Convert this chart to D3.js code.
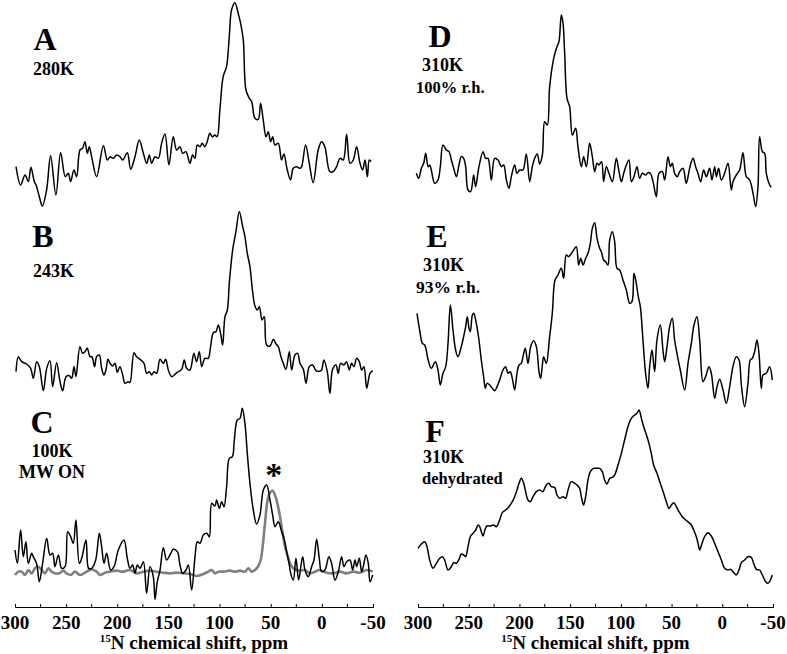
<!DOCTYPE html>
<html><head><meta charset="utf-8">
<script src="https://cdn.jsdelivr.net/npm/d3@7"></script>
<style>
html,body{margin:0;padding:0;background:#fff;}
svg{display:block;}
text{font-family:"Liberation Serif","Times New Roman",serif;font-weight:bold;fill:#000;}
</style></head><body>
<svg id="chart" width="787" height="654"></svg>
<script>
// ---- data: [chemical shift (ppm), intensity (a.u.)] ----
const spectrumA = [[299.0,13.0],[294.5,7.5],[290.2,10.5],[287.0,8.5],[284.4,12.8],[281.1,8.5],[279.4,7.5],[276.2,4.0],[273.3,1.2],[269.1,6.0],[265.2,16.3],[260.0,4.5],[255.4,17.2],[250.8,10.0],[247.9,11.0],[245.6,8.5],[242.4,12.0],[239.7,10.0],[236.5,18.0],[233.9,18.5],[231.6,20.5],[229.3,17.0],[227.4,19.0],[225.1,16.0],[220.2,10.0],[213.6,19.3],[209.7,15.0],[207.1,16.0],[203.9,15.5],[200.6,16.5],[197.4,16.0],[194.7,15.0],[190.2,17.2],[186.9,12.2],[182.7,16.0],[178.5,21.0],[174.5,17.0],[171.3,14.0],[168.7,16.5],[166.4,14.0],[163.2,16.0],[159.9,15.5],[156.7,20.0],[153.4,22.8],[149.5,13.5],[145.3,22.0],[142.0,18.0],[138.7,19.0],[136.1,17.0],[132.9,17.5],[129.0,14.0],[126.4,16.5],[124.1,15.5],[121.8,19.5],[119.2,19.0],[117.0,20.0],[114.4,19.0],[112.1,20.5],[109.5,23.0],[107.2,22.0],[104.6,22.5],[102.4,22.0],[99.7,30.0],[96.5,40.0],[93.2,43.0],[90.5,52.0],[88.3,60.0],[85.0,62.2],[81.8,59.0],[79.4,56.0],[76.8,51.0],[74.2,36.0],[70.9,33.5],[68.6,32.5],[65.4,27.5],[62.2,27.2],[59.9,32.0],[57.3,27.0],[54.6,22.0],[52.4,23.5],[50.1,20.5],[48.1,22.0],[45.9,19.5],[42.6,20.0],[39.4,15.0],[37.1,16.8],[33.8,12.0],[30.6,9.0],[28.0,12.5],[24.7,13.0],[21.4,12.5],[19.8,13.0],[15.9,19.5],[12.3,14.0],[8.5,8.2],[3.6,18.0],[0.3,20.5],[-2.9,19.0],[-7.8,11.5],[-11.1,11.5],[-14.4,13.0],[-17.7,15.5],[-20.9,15.0],[-24.2,22.7],[-27.5,14.0],[-30.7,15.0],[-34.0,19.0],[-37.3,14.0],[-39.9,12.0],[-42.2,15.0],[-44.5,10.0],[-46.4,15.0],[-48.1,14.5]];

const spectrumB = [[299.0,8.5],[296.7,13.0],[293.5,11.5],[288.6,10.8],[284.7,9.5],[282.1,6.5],[278.8,11.5],[276.2,10.0],[272.3,2.8],[269.0,9.5],[265.8,11.8],[263.2,4.0],[259.3,11.2],[256.0,5.5],[253.4,2.8],[250.1,7.0],[246.9,7.3],[244.6,6.5],[242.3,10.0],[240.4,7.0],[236.5,16.0],[233.9,14.0],[231.6,14.5],[229.3,15.5],[226.7,13.0],[224.8,13.0],[222.2,10.0],[220.2,13.0],[217.6,13.5],[215.3,9.5],[213.0,7.5],[211.1,9.0],[209.1,12.2],[207.1,11.0],[204.5,10.2],[202.2,11.0],[200.0,8.3],[197.4,10.0],[194.7,7.5],[192.5,5.0],[189.2,5.5],[187.6,5.2],[183.7,14.2],[181.1,13.0],[177.8,12.2],[173.9,11.0],[171.3,8.0],[168.7,8.5],[166.4,7.5],[164.1,8.5],[161.5,8.0],[158.2,12.2],[155.0,11.0],[152.7,12.2],[150.1,9.0],[146.8,7.0],[141.9,8.2],[137.1,9.2],[134.5,12.0],[132.2,9.5],[129.0,9.0],[125.1,14.0],[122.5,11.5],[119.8,14.5],[117.5,10.0],[114.3,12.5],[111.1,12.5],[108.8,16.0],[106.1,20.2],[103.5,20.5],[101.2,22.5],[98.9,19.8],[97.0,16.5],[94.7,25.0],[92.4,27.0],[90.5,35.0],[87.2,45.0],[84.0,50.5],[80.7,56.5],[77.4,52.0],[75.2,49.0],[72.9,44.0],[70.3,40.0],[67.7,32.5],[65.4,28.2],[63.1,27.0],[61.1,28.0],[58.5,24.0],[56.3,25.0],[54.0,16.5],[50.7,16.2],[47.4,18.2],[44.8,16.8],[42.6,16.0],[40.0,13.0],[37.7,11.0],[35.1,9.2],[31.8,14.5],[29.5,9.0],[26.3,13.5],[23.7,14.0],[21.4,11.0],[18.1,9.2],[15.5,5.0],[12.3,10.0],[9.0,10.5],[5.7,8.8],[2.5,8.6],[0.3,9.0],[-2.0,12.0],[-5.3,8.5],[-7.9,2.0],[-10.5,9.2],[-13.8,10.5],[-16.0,8.0],[-18.3,11.0],[-21.6,10.5],[-24.2,11.5],[-26.8,9.0],[-29.1,11.0],[-31.4,10.0],[-34.0,12.5],[-36.6,11.5],[-38.9,9.0],[-41.2,10.0],[-43.8,3.5],[-47.1,8.0],[-49.7,8.8]];

const spectrumC = [[300.0,18.0],[297.7,14.0],[294.5,24.0],[291.9,16.0],[289.3,20.5],[287.0,14.0],[283.7,17.0],[282.1,16.0],[278.8,13.8],[276.2,8.5],[273.0,14.0],[269.0,21.5],[265.8,16.5],[263.2,17.0],[260.9,13.0],[257.6,16.5],[254.4,12.5],[251.1,13.0],[248.5,23.5],[245.6,22.0],[243.0,20.0],[240.4,27.0],[237.1,14.0],[234.8,15.5],[230.6,21.0],[228.0,12.5],[225.1,12.5],[221.1,15.0],[217.6,23.0],[215.3,19.0],[213.0,14.0],[210.4,17.0],[206.5,12.0],[203.2,13.0],[199.0,18.0],[193.5,21.0],[190.2,15.5],[187.6,12.5],[185.0,13.5],[182.7,11.0],[180.4,13.5],[177.8,12.5],[174.5,14.5],[171.3,5.0],[168.0,13.0],[164.8,10.0],[163.1,3.2],[160.9,8.5],[158.2,12.0],[155.0,18.7],[151.7,15.0],[148.5,16.5],[145.2,18.2],[141.3,17.5],[138.7,13.5],[136.1,11.0],[132.8,12.0],[130.5,13.5],[127.3,6.0],[124.0,16.0],[121.7,20.5],[119.1,20.0],[115.9,22.5],[112.6,23.0],[110.0,22.0],[107.7,32.0],[104.5,31.2],[102.9,33.0],[100.2,30.5],[98.0,32.5],[95.7,31.0],[93.1,37.0],[90.5,45.5],[87.5,46.0],[85.6,51.0],[82.7,57.0],[80.0,57.5],[77.8,60.5],[75.2,56.0],[72.9,47.0],[70.3,38.0],[67.0,30.0],[63.8,25.8],[60.5,28.5],[57.2,36.0],[54.0,37.5],[50.7,33.0],[48.1,28.5],[45.8,25.0],[42.6,26.5],[39.3,23.5],[37.0,21.5],[34.4,17.5],[31.8,13.5],[30.5,11.0],[27.9,9.0],[25.3,15.5],[22.7,9.0],[18.8,16.0],[16.5,12.0],[13.3,10.0],[10.0,13.0],[7.7,15.0],[5.1,21.2],[2.5,15.5],[0.3,11.5],[-3.0,12.0],[-6.9,16.0],[-9.5,14.0],[-12.8,9.0],[-16.1,11.5],[-19.3,16.0],[-21.6,13.0],[-24.2,14.5],[-27.5,15.0],[-30.1,12.0],[-32.4,15.0],[-34.0,13.0],[-36.6,15.5],[-38.9,11.5],[-40.5,13.0],[-43.1,16.5],[-45.4,14.0],[-47.1,8.5],[-49.7,10.5]];

const spectrumCref = [[300.0,10.5],[296.7,11.5],[293.5,11.5],[290.2,10.5],[287.0,12.0],[283.7,11.0],[280.4,12.5],[277.2,13.0],[273.9,12.0],[270.7,11.0],[267.4,12.5],[264.2,11.5],[260.9,11.0],[256.7,11.0],[252.8,11.8],[249.5,11.0],[245.6,10.5],[241.3,11.5],[236.5,10.5],[229.9,11.5],[225.1,12.2],[220.2,11.5],[216.9,10.5],[212.0,11.2],[207.1,11.5],[200.6,11.8],[194.1,11.5],[187.6,12.0],[181.1,11.0],[174.5,11.5],[168.0,11.8],[161.5,11.5],[155.0,11.2],[148.5,11.0],[142.0,11.2],[135.4,11.0],[128.9,10.8],[122.4,10.2],[115.9,10.8],[111.0,11.5],[107.7,12.0],[104.5,11.0],[101.2,11.5],[96.3,11.5],[89.8,11.8],[84.9,11.5],[80.0,11.8],[75.2,11.5],[71.9,12.5],[68.6,11.5],[65.4,12.0],[62.1,13.2],[59.8,15.0],[57.9,19.0],[55.6,26.0],[53.0,33.0],[50.7,35.2],[48.1,35.8],[45.8,34.5],[43.5,32.0],[40.9,28.0],[38.3,23.0],[36.0,19.0],[33.7,16.5],[31.1,14.0],[27.9,12.5],[24.6,12.0],[21.4,11.8],[16.5,12.0],[11.6,11.0],[6.7,11.5],[2.0,12.0],[-4.6,11.2],[-11.1,11.0],[-17.6,11.5],[-24.2,11.0],[-30.7,11.5],[-37.2,11.2],[-43.8,12.0],[-49.7,11.5]];

const spectrumD = [[301.6,11.0],[299.3,9.5],[296.7,12.5],[294.4,14.0],[292.4,17.0],[290.0,13.0],[288.5,13.5],[286.9,12.0],[283.6,8.0],[280.3,9.0],[278.0,13.0],[275.4,19.5],[272.1,18.0],[269.4,17.5],[267.1,15.0],[264.8,12.5],[262.2,10.0],[259.6,13.5],[257.3,16.0],[255.0,15.5],[253.0,13.0],[250.7,6.0],[248.1,5.5],[245.1,10.5],[243.2,7.0],[239.9,13.0],[235.9,17.5],[233.3,15.5],[231.0,15.5],[227.7,9.0],[224.4,15.5],[221.1,15.0],[217.8,13.0],[215.5,13.5],[212.9,9.0],[210.3,6.5],[208.0,10.0],[204.7,13.5],[202.4,11.0],[199.8,12.0],[196.5,12.0],[193.2,16.8],[189.9,8.5],[187.3,13.0],[185.0,15.5],[182.4,16.8],[180.1,13.8],[177.4,16.5],[175.1,26.5],[172.5,25.5],[170.2,37.0],[166.2,45.5],[163.0,49.0],[161.0,50.5],[158.7,58.5],[157.0,56.0],[155.4,47.0],[153.1,33.5],[150.5,31.0],[147.8,22.5],[144.6,24.5],[142.3,19.0],[139.0,13.0],[136.7,16.0],[134.0,13.0],[130.8,20.0],[128.1,16.0],[125.8,11.5],[123.5,14.0],[121.6,13.5],[119.0,14.5],[117.0,8.5],[114.3,13.0],[111.7,11.0],[108.4,8.5],[104.5,15.5],[101.8,11.5],[99.5,8.5],[97.2,11.0],[94.6,13.5],[92.0,15.0],[89.7,8.5],[87.1,10.0],[84.1,13.0],[81.5,9.5],[78.8,11.0],[75.6,10.5],[73.3,11.2],[71.0,11.0],[68.3,8.5],[65.0,4.0],[62.4,11.0],[59.1,11.5],[56.8,9.0],[53.5,16.0],[51.2,13.0],[49.3,14.0],[47.0,11.0],[44.3,10.0],[42.0,11.5],[38.7,12.5],[35.5,8.0],[32.2,12.5],[28.9,15.5],[26.3,13.0],[24.0,11.0],[21.3,8.5],[18.4,12.0],[15.7,10.0],[12.5,12.5],[10.2,9.0],[7.5,13.0],[5.9,10.0],[3.6,12.5],[1.0,9.0],[-2.3,11.0],[-5.6,14.0],[-8.9,6.0],[-10.5,8.5],[-13.8,10.5],[-17.1,12.0],[-20.4,17.2],[-23.7,10.0],[-27.0,9.0],[-30.3,5.0],[-32.9,1.0],[-35.2,7.0],[-36.8,22.0],[-39.5,17.5],[-41.8,17.0],[-43.4,11.0],[-46.7,7.5],[-48.3,6.8]];

const spectrumE = [[301.0,32.0],[298.4,27.0],[295.7,23.0],[293.4,22.5],[290.0,18.0],[286.9,15.5],[282.9,17.5],[280.3,15.0],[278.0,10.5],[275.4,14.0],[272.7,16.0],[270.4,23.0],[268.1,34.5],[265.5,27.0],[262.9,21.0],[260.6,19.0],[257.3,22.0],[255.0,25.0],[253.0,28.0],[251.4,31.0],[249.7,27.5],[248.4,26.5],[246.4,31.5],[245.1,32.0],[242.5,29.0],[239.9,24.0],[237.6,18.0],[235.3,13.0],[233.6,9.5],[232.0,11.0],[229.3,10.5],[226.7,9.5],[224.4,8.8],[222.1,10.0],[219.5,12.0],[216.2,15.0],[213.6,16.0],[211.3,14.0],[209.0,14.5],[207.0,12.5],[204.7,9.0],[202.4,14.0],[200.4,16.5],[198.1,17.0],[196.5,19.0],[194.2,21.5],[191.6,17.0],[188.9,22.0],[186.0,23.8],[183.3,22.0],[180.7,14.5],[179.1,12.5],[177.4,16.5],[176.1,19.0],[173.5,17.0],[170.2,25.0],[167.6,32.0],[164.9,42.0],[162.0,43.5],[158.7,45.5],[156.4,42.5],[153.8,49.5],[151.5,49.0],[148.8,50.0],[146.5,51.0],[143.9,52.0],[141.6,46.5],[139.6,48.5],[137.3,46.5],[134.7,48.5],[132.4,50.0],[130.1,53.0],[128.1,57.5],[125.8,59.2],[123.5,54.5],[120.9,51.5],[119.3,50.5],[117.0,48.0],[115.0,47.5],[112.7,46.5],[111.0,54.0],[108.4,56.5],[106.1,53.5],[103.8,45.5],[101.2,45.0],[97.9,42.0],[94.6,39.0],[91.3,35.0],[89.0,35.5],[87.1,44.0],[84.8,41.0],[82.8,37.0],[80.8,34.0],[78.2,24.0],[75.6,14.0],[73.3,9.5],[71.6,16.0],[69.3,21.0],[66.7,14.5],[64.4,24.0],[61.1,28.5],[58.5,21.0],[56.8,17.5],[54.5,22.0],[51.9,28.0],[49.3,30.5],[47.0,24.0],[44.7,20.0],[41.4,15.0],[37.1,9.0],[33.8,17.0],[30.5,23.0],[27.9,28.5],[25.0,31.0],[22.3,24.0],[19.0,11.5],[16.4,13.0],[13.1,16.0],[10.8,14.0],[7.5,6.5],[5.2,10.0],[2.6,12.2],[-0.7,9.0],[-4.0,5.0],[-7.3,10.0],[-10.5,16.0],[-13.8,19.0],[-16.5,18.0],[-18.8,10.5],[-22.0,4.0],[-25.3,11.0],[-27.6,18.0],[-29.6,18.5],[-31.9,20.5],[-34.2,24.0],[-36.2,20.0],[-38.5,9.5],[-40.1,13.5],[-43.4,14.0],[-46.7,16.0],[-49.3,12.0]];

const spectrumF = [[300.0,18.5],[296.7,19.8],[293.4,20.5],[291.1,19.0],[288.5,15.0],[285.2,12.5],[281.9,14.0],[278.6,15.5],[276.0,16.0],[273.7,15.0],[270.4,12.0],[267.1,13.0],[264.8,14.2],[262.2,14.0],[259.6,15.2],[257.3,16.8],[255.0,16.5],[253.0,16.0],[250.7,19.0],[248.4,22.0],[245.8,23.0],[243.1,24.0],[240.8,25.5],[239.2,25.0],[237.6,23.5],[235.9,22.2],[234.0,24.0],[232.0,25.2],[228.7,25.2],[225.4,25.5],[222.8,25.0],[219.5,27.0],[216.9,29.2],[213.6,30.0],[210.3,31.0],[207.0,32.5],[204.7,34.0],[202.4,36.0],[200.4,38.0],[198.1,39.5],[195.8,38.0],[193.9,35.5],[191.6,33.0],[189.3,32.5],[186.6,34.0],[183.3,35.5],[180.1,36.0],[176.8,35.5],[175.1,36.5],[173.5,37.5],[170.9,38.0],[168.6,37.0],[165.3,36.8],[163.0,34.5],[160.3,33.5],[157.0,34.0],[154.4,33.5],[152.1,36.0],[148.8,38.5],[145.5,38.0],[143.2,37.5],[140.6,36.5],[139.0,34.0],[136.7,31.5],[134.7,34.0],[132.4,39.0],[130.1,41.5],[126.8,42.5],[123.5,42.5],[120.9,42.5],[118.3,41.5],[116.0,39.0],[113.7,37.8],[111.0,39.5],[108.4,39.8],[106.1,40.5],[102.8,43.5],[99.5,47.0],[96.3,51.0],[93.0,55.0],[89.7,57.5],[86.4,58.5],[84.1,59.0],[82.1,60.0],[79.8,57.5],[77.5,55.0],[74.2,52.0],[72.3,50.0],[70.0,47.0],[67.7,43.5],[64.4,41.0],[61.1,38.0],[57.8,35.0],[55.2,32.5],[52.5,30.5],[50.2,31.5],[47.9,32.2],[45.3,31.0],[42.7,29.5],[39.4,28.0],[36.1,27.0],[32.8,26.2],[30.5,25.5],[28.2,24.0],[25.6,22.0],[23.9,20.0],[22.3,18.0],[20.0,20.0],[17.4,22.0],[14.1,23.2],[10.8,22.2],[7.5,20.0],[4.2,17.5],[0.9,15.0],[-2.3,12.5],[-5.6,12.0],[-7.9,12.2],[-10.5,11.5],[-13.8,10.5],[-16.5,12.0],[-18.8,14.2],[-22.0,15.0],[-25.3,16.0],[-28.6,15.8],[-30.9,14.0],[-33.6,12.2],[-36.8,12.0],[-39.5,10.5],[-42.8,8.5],[-45.1,8.0],[-47.4,9.0],[-49.3,10.5]];

const shiftTicks = [300, 250, 200, 150, 100, 50, 0, -50];
const shiftMinorTicks = [275, 225, 175, 125, 75, 25, -25];
const panelLetters = ["A", "B", "C", "D", "E", "F"];
const panelNotes = [["280K"], ["243K"], ["100K", "MW ON"], ["310K", "100% r.h."], ["310K", "93% r.h."], ["310K", "dehydrated"]];
const axisTitle = {sup: "15", main: "N chemical shift, ppm"};

// ---- layout ----
const svg = d3.select("#chart");
const columns = [
  {x0: 15, x1: 373},
  {x0: 418, x1: 773}
];
const xScales = columns.map(c => d3.scaleLinear().domain([300, -50]).range([c.x0, c.x1]));

const panels = [
  {col: 0, base: 210, data: [spectrumA]},
  {col: 0, base: 400, data: [spectrumB]},
  {col: 0, base: 610, data: [spectrumCref, spectrumC], colors: ["#808080", "#000"], widths: [2.6, 1.5]},
  {col: 1, base: 210, data: [spectrumD]},
  {col: 1, base: 420, data: [spectrumE]},
  {col: 1, base: 610, data: [spectrumF]}
];

panels.forEach((p, i) => {
  const xs = xScales[p.col];
  const ys = d3.scaleLinear().domain([0, 63]).range([p.base, p.base - 210]);
  const line = d3.line().x(d => xs(d[0])).y(d => ys(d[1])).curve(d3.curveCatmullRom.alpha(0.5));
  p.data.forEach((s, k) => {
    svg.append("path").datum(s)
      .attr("d", line)
      .attr("fill", "none")
      .attr("stroke", p.colors ? p.colors[k] : "#000")
      .attr("stroke-width", p.widths ? p.widths[k] : 1.5)
      .attr("stroke-linejoin", "round");
  });
});

// panel labels
const letterPos = [
  {x: 45, y: 50}, {x: 43, y: 247}, {x: 42, y: 433},
  {x: 440, y: 47}, {x: 437, y: 247}, {x: 435, y: 442}
];
const notePos = [
  [{x: 33, y: 75, a: "start", s: 18}],
  [{x: 33, y: 277, a: "start", s: 18}],
  [{x: 52, y: 457, a: "middle", s: 18}, {x: 52, y: 478, a: "middle", s: 18}],
  [{x: 422, y: 71, a: "start", s: 18}, {x: 416, y: 93, a: "start", s: 16.5}],
  [{x: 423, y: 271, a: "start", s: 18}, {x: 416, y: 293, a: "start", s: 17.5}],
  [{x: 423, y: 463, a: "start", s: 18}, {x: 422, y: 484, a: "start", s: 16.5}]
];
panelLetters.forEach((L, i) => {
  svg.append("text").attr("x", letterPos[i].x).attr("y", letterPos[i].y)
    .attr("text-anchor", "middle").style("font-size", "32px").text(L);
  panelNotes[i].forEach((t, j) => {
    const np = notePos[i][j];
    svg.append("text").attr("x", np.x).attr("y", np.y).attr("text-anchor", np.a)
      .style("font-size", np.s + "px").text(t);
  });
});

// asterisk on panel C
svg.append("text").attr("x", xScales[0](47)).attr("y", 486)
  .attr("text-anchor", "middle").style("font-size", "34px").text("*");

// axes
columns.forEach((c, ci) => {
  const xs = xScales[ci];
  const g = svg.append("g").attr("transform", "translate(0,607)");
  g.call(d3.axisTop(xs).tickValues(shiftTicks).tickSize(3).tickFormat(""));
  g.selectAll(".minor").data(shiftMinorTicks).enter().append("line")
    .attr("x1", d => xs(d)).attr("x2", d => xs(d)).attr("y1", 0).attr("y2", -3)
    .attr("stroke", "#000");
  g.select(".domain").attr("stroke", "#000").attr("stroke-width", 1);
  g.selectAll(".tick line").attr("stroke", "#000");
  svg.selectAll(null).data(shiftTicks).enter().append("text")
    .attr("x", d => xs(d)).attr("y", 629).attr("text-anchor", "middle")
    .style("font-size", "19px").text(d => d < 0 ? "-" + Math.abs(d) : d);
  const t = svg.append("text").attr("x", (c.x0 + c.x1) / 2).attr("y", 649)
    .attr("text-anchor", "middle").style("font-size", "19px");
  t.append("tspan").attr("dy", "-7").style("font-size", "11px").text(axisTitle.sup);
  t.append("tspan").attr("dy", "7").text(axisTitle.main);
});
</script>
</body></html>
